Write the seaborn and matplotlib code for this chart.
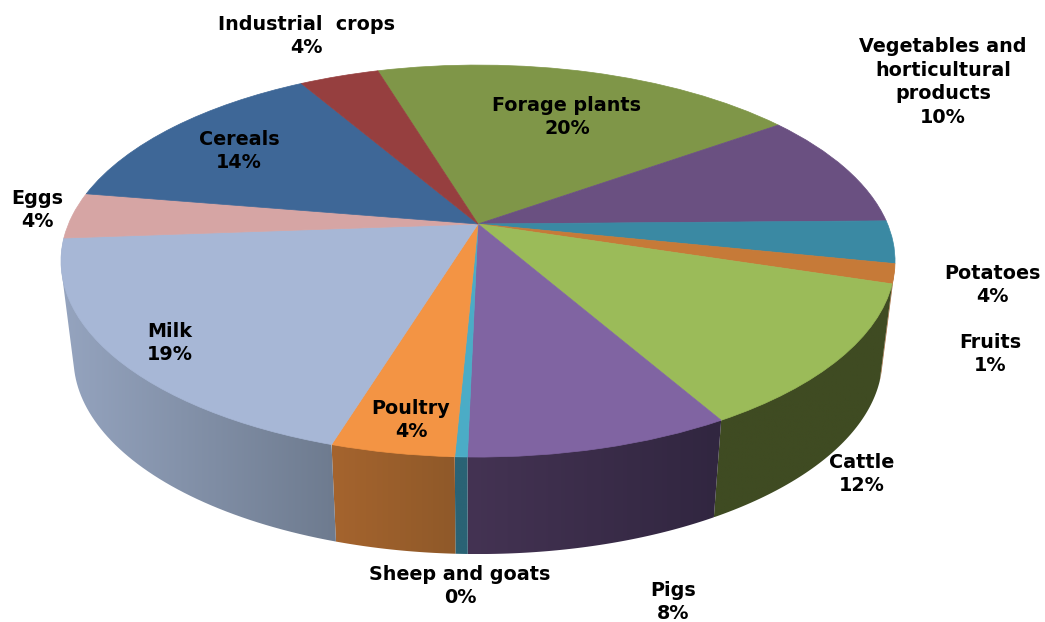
import numpy as np
import matplotlib
matplotlib.use('Agg')
import matplotlib.pyplot as plt
import seaborn as sns
from matplotlib.patches import Polygon
from matplotlib.transforms import Transform
from matplotlib.colors import to_rgb

# clockwise from the forage / industrial boundary
categories = ['Forage plants', 'Vegetables and\nhorticultural\nproducts', 'Potatoes', 'Fruits',
              'Cattle', 'Pigs', 'Sheep and goats', 'Poultry', 'Milk', 'Eggs', 'Cereals',
              'Industrial  crops']
shares = [19.8, 9.6, 3.5, 1.6, 11.9, 8.6, 0.4, 4.0, 19.1, 3.8, 14.0, 3.7]
pct_labels = ['20%', '10%', '4%', '1%', '12%', '8%', '0%', '4%', '19%', '4%', '14%', '4%']

top_colors = ['#7F9648', '#6A5081', '#3A89A3', '#C67A38', '#9BBB59', '#8064A2',
              '#4BACC6', '#F39444', '#A7B7D6', '#D6A5A4', '#3E6797', '#963F3F']
wall_left = ['#5F7036', '#4F3C60', '#2A6375', '#A0602C', '#3F4B22', '#443353',
             '#2A6375', '#A5642E', '#95A4BF', '#A08080', '#2E4D70', '#702F2F']
wall_right = ['#5F7036', '#4F3C60', '#2A6375', '#A0602C', '#3F4B22', '#312640',
              '#2A6375', '#8F5929', '#6E7B8F', '#A08080', '#2E4D70', '#702F2F']

label_pos = [(567, 117), (943, 82), (992, 285), (990, 354), (862, 474), (673, 602),
             (460, 586), (411, 420), (170, 343), (37, 210), (239, 151), (306, 36)]

sns.set_theme(style='white')

X0, Y0 = 478, 224    # apex of the pie on screen
RX, RY = 409.5, 189
TILT = 0.189
DEPTH = 97
SHRINK = 0.97


def project(pts):
    u, v = pts[:, 0], pts[:, 1]
    w = 1 + TILT * v
    return np.column_stack([X0 + RX * u / w, Y0 - RY * v / w])


class TiltTransform(Transform):
    input_dims = output_dims = 2
    is_affine = False
    has_inverse = False

    def transform_non_affine(self, values):
        return project(np.asarray(values, dtype=float))


def hull(pts):
    # monotone chain, the rim fold at the sides needs the convex outline
    pts = sorted(map(tuple, pts))

    def half(seq):
        out = []
        for p in seq:
            while len(out) > 1 and ((out[-1][0] - out[-2][0]) * (p[1] - out[-2][1])
                                    - (out[-1][1] - out[-2][1]) * (p[0] - out[-2][0])) <= 0:
                out.pop()
            out.append(p)
        return out[:-1]
    return np.array(half(pts) + half(pts[::-1]))


def draw_wall(ax, t1, t2, c_left, c_right):
    edges = np.radians(np.linspace(t1, t2, 60))
    rim = project(np.column_stack([np.cos(edges), np.sin(edges)]))
    low = np.column_stack([X0 + SHRINK * (rim[:, 0] - X0), rim[:, 1] + DEPTH])
    outline = hull(np.vstack([rim, low]))
    x1, x2 = outline[:, 0].min(), outline[:, 0].max()
    y1, y2 = outline[:, 1].min(), outline[:, 1].max()
    a, b = np.array(to_rgb(c_left)), np.array(to_rgb(c_right))
    grad = a + (b - a) * np.linspace(0, 1, 128)[:, None]
    poly = Polygon(outline, closed=True, facecolor='none', edgecolor='none',
                   transform=ax.transData)
    ax.add_patch(poly)
    ax.imshow(grad[None, :, :], extent=(x1, x2, y2, y1), aspect='auto',
              interpolation='bilinear', clip_path=poly, zorder=1)


fig = plt.figure(figsize=(10.45, 6.22), dpi=100)
ax = fig.add_axes([0, 0, 1, 1])
wedges, _ = ax.pie(shares, colors=top_colors, startangle=106.8, counterclock=False)

tilt = TiltTransform()
for w, c in zip(wedges, top_colors):
    w.set_transform(tilt + ax.transData)
    w.set_edgecolor(c)
    w.set_linewidth(0.5)
    w.set_zorder(2)

# only wedges facing the viewer show a wall
for w, cl, cr in zip(wedges, wall_left, wall_right):
    mid = np.radians((w.theta1 + w.theta2) / 2)
    if np.sin(mid) < -0.1:
        draw_wall(ax, w.theta1, w.theta2, cl, cr)

ax.set_aspect('auto')
ax.set_xlim(0, 1045)
ax.set_ylim(622, 0)

for name, pct, (x, y) in zip(categories, pct_labels, label_pos):
    ax.text(x, y, name + '\n' + pct, ha='center', va='center', fontsize=13.8,
            fontweight='bold', color='black', family='DejaVu Sans', linespacing=1.33, zorder=3)

fig.savefig('out.png', dpi=100)
